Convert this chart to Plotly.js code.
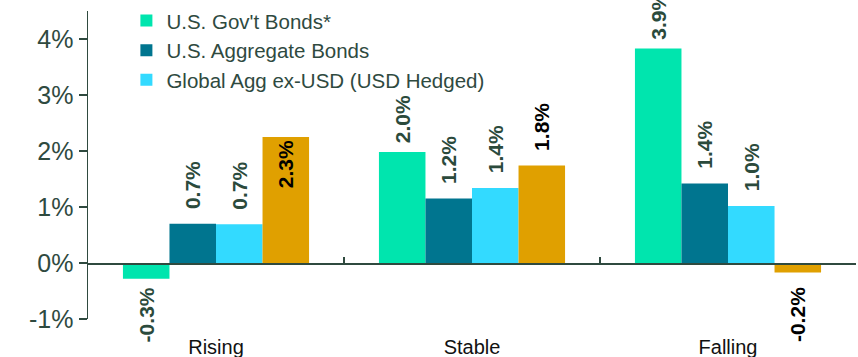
<!DOCTYPE html>
<html>
<head>
<meta charset="utf-8">
<script src="https://cdn.plot.ly/plotly-3.0.1.min.js"></script>
<style>html,body{margin:0;padding:0;background:#fff;}#chart{width:858px;height:357px;}</style>
</head>
<body>
<div id="chart"></div>
<script>
// ---- data ----
const categories = ["Rising", "Stable", "Falling"];
const seriesNames = ["U.S. Gov't Bonds*", "U.S. Aggregate Bonds", "Global Agg ex-USD (USD Hedged)", "Other"];
const govBonds = [-0.28, 1.98, 3.83];
const aggBonds = [0.70, 1.15, 1.42];
const globalAgg = [0.69, 1.34, 1.02];
const fourth = [2.25, 1.74, -0.17];
const govLabels = ["-0.3%", "2.0%", "3.9%"];
const aggLabels = ["0.7%", "1.2%", "1.4%"];
const globalLabels = ["0.7%", "1.4%", "1.0%"];
const fourthLabels = ["2.3%", "1.8%", "-0.2%"];
const yTickVals = [-1, 0, 1, 2, 3, 4];
const yTickText = ["-1%", "0%", "1%", "2%", "3%", "4%"];

const colors = ["#00E5AE", "#00758F", "#33DAFF", "#E0A000"];
const labelColor = "#2B4A3C";
const axisColor = "#2F4A3F";
const FONT = "Liberation Sans, Arial, sans-serif";
const yMin = -1, yMax = 4.5;
const NB = "\u00A0";

// extra spacing between a bar end and its outside label (in non-breaking spaces)
function padLabels(labels, values, positions, n) {
  return labels.map((t, i) => {
    const pos = Array.isArray(positions) ? positions[i] : positions;
    if (pos !== "outside") return t;
    const p = NB.repeat(n);
    return values[i] >= 0 ? p + t : t + p;
  });
}

function barTrace(name, y, labels, color, textColor, showlegend, positions, pad) {
  const f = {family: FONT, size: 21, color: textColor, weight: "bold"};
  return {
    type: "bar", name: name, x: categories, y: y,
    text: padLabels(labels, y, positions, pad), texttemplate: "%{text}",
    textposition: positions, insidetextanchor: "end",
    textangle: -90, constraintext: "none", cliponaxis: false,
    textfont: f, insidetextfont: f, outsidetextfont: f,
    marker: {color: color, line: {width: 0}},
    showlegend: showlegend, hoverinfo: "skip"
  };
}

const data = [
  barTrace(seriesNames[0], govBonds, govLabels, colors[0], labelColor, true, "outside", 1),
  barTrace(seriesNames[1], aggBonds, aggLabels, colors[1], labelColor, true, "outside", 2),
  barTrace(seriesNames[2], globalAgg, globalLabels, colors[2], labelColor, true, "outside", 2),
  barTrace(seriesNames[3], fourth, fourthLabels, colors[3], "#000000", false, ["inside", "outside", "outside"], 2)
];

const layout = {
  width: 858, height: 357,
  margin: {l: 88, r: 2, t: 10, b: 38},
  paper_bgcolor: "#fff", plot_bgcolor: "#fff",
  barmode: "group", bargap: 0.273, bargroupgap: 0,
  font: {family: FONT, color: axisColor},
  showlegend: true,
  legend: {
    x: 0.05, y: 1.03, xanchor: "left", yanchor: "top",
    font: {family: FONT, size: 20.5, color: axisColor},
    bgcolor: "rgba(0,0,0,0)", itemwidth: 30, tracegroupgap: 0
  },
  xaxis: {
    type: "category", categoryorder: "array", categoryarray: categories,
    anchor: "free", position: (0 - yMin) / (yMax - yMin),
    showline: true, linecolor: axisColor, linewidth: 1.5,
    ticks: "inside", tickson: "boundaries", ticklen: 6, tickcolor: axisColor, tickwidth: 1.5,
    showgrid: false, zeroline: false,
    ticklabelstandoff: 65,
    tickfont: {family: FONT, size: 20, color: "#111"}
  },
  yaxis: {
    range: [yMin, yMax], tickvals: yTickVals, ticktext: yTickText,
    showline: true, linecolor: axisColor, linewidth: 1.5,
    ticks: "outside", ticklen: 8, tickcolor: axisColor, tickwidth: 1.5,
    showgrid: false, zeroline: false,
    tickfont: {family: FONT, size: 25, color: axisColor}
  }
};

Plotly.newPlot("chart", data, layout, {staticPlot: true, displayModeBar: false});
</script>
</body>
</html>
